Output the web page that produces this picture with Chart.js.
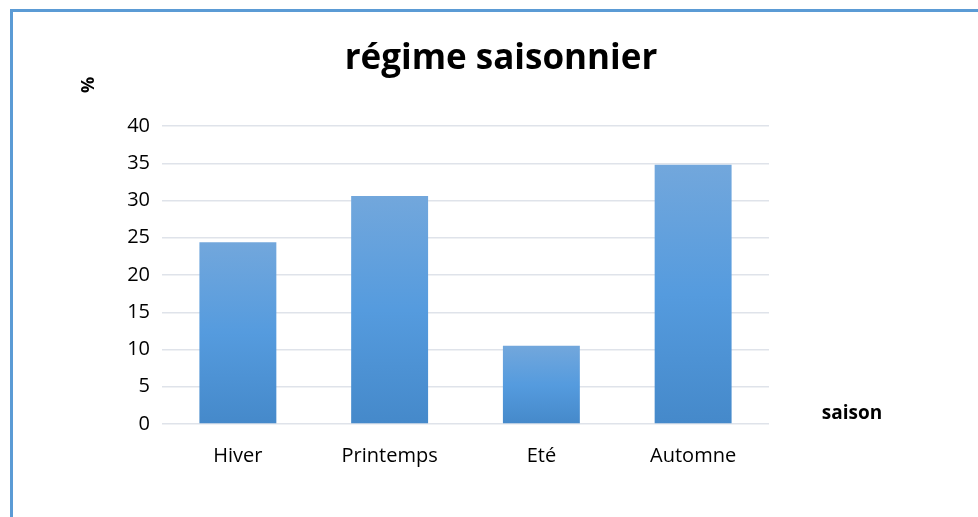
<!DOCTYPE html>
<html>
<head>
<meta charset="utf-8">
<script src="https://cdn.jsdelivr.net/npm/chart.js@4"></script>
<style>
  html, body { margin: 0; padding: 0; background: #fff; }
  #wrap { position: relative; width: 978px; height: 517px; }
  #frame { position: absolute; left: 10px; top: 9px; right: 0; bottom: 0;
           border-left: 3px solid #5b9bd5; border-top: 3px solid #5b9bd5; }
  canvas { position: absolute; left: 0; top: 0; }
</style>
</head>
<body>
<div id="wrap">
  <div id="frame"></div>
  <canvas id="chart" width="978" height="517"></canvas>
</div>
<script>
const seasons = ['Hiver', 'Printemps', 'Eté', 'Automne']
const percentages = [24.4, 30.6, 10.5, 34.8]
const yTicks = [0, 5, 10, 15, 20, 25, 30, 35, 40]

const FONT = '"Open Sans", sans-serif'

// title, axis titles drawn around the chart area
const labelsPlugin = {
  id: 'labels',
  afterDraw(chart) {
    const ctx = chart.ctx
    ctx.save()
    ctx.fillStyle = '#000'
    ctx.textAlign = 'center'
    ctx.textBaseline = 'middle'
    ctx.font = 'bold 35px ' + FONT
    ctx.fillText('régime saisonnier', 501, 59)
    ctx.font = 'bold 19px ' + FONT
    ctx.fillText('saison', 852, 414)
    ctx.font = 'bold 18px ' + FONT
    ctx.translate(89, 85)
    ctx.rotate(-Math.PI / 2)
    ctx.fillText('%', 0, 0)
    ctx.restore()
  },
}

function barGradient(context) {
  const chart = context.chart
  const area = chart.chartArea
  if (!area) return '#5b9bd5'
  const top = chart.scales.y.getPixelForValue(context.raw)
  const g = chart.ctx.createLinearGradient(0, top, 0, area.bottom)
  g.addColorStop(0, '#72a7dc')
  g.addColorStop(0.5, '#559bde')
  g.addColorStop(1, '#4589ca')
  return g
}

new Chart(document.getElementById('chart'), {
  type: 'bar',
  data: {
    labels: seasons,
    datasets: [
      {
        data: percentages,
        backgroundColor: barGradient,
        categoryPercentage: 1,
        barPercentage: 0.507,
      },
    ],
  },
  options: {
    responsive: false,
    animation: false,
    layout: { padding: { left: 0, top: 126, right: 209, bottom: 0 } },
    plugins: { legend: { display: false }, tooltip: { enabled: false } },
    scales: {
      x: {
        grid: { display: false },
        border: { display: false },
        ticks: { color: '#000', padding: 12, font: { family: FONT, size: 20 } },
        afterFit(scale) { scale.height = 93 },
      },
      y: {
        min: 0,
        max: 40,
        afterBuildTicks(scale) { scale.ticks = yTicks.map(v => ({ value: v })) },
        grid: { color: '#dfe3ea', lineWidth: 1.5, drawTicks: false },
        border: { display: false },
        ticks: { color: '#000', padding: 12, font: { family: FONT, size: 20 } },
        afterFit(scale) { scale.width = 162 },
      },
    },
  },
  plugins: [labelsPlugin],
})
</script>
</body>
</html>
